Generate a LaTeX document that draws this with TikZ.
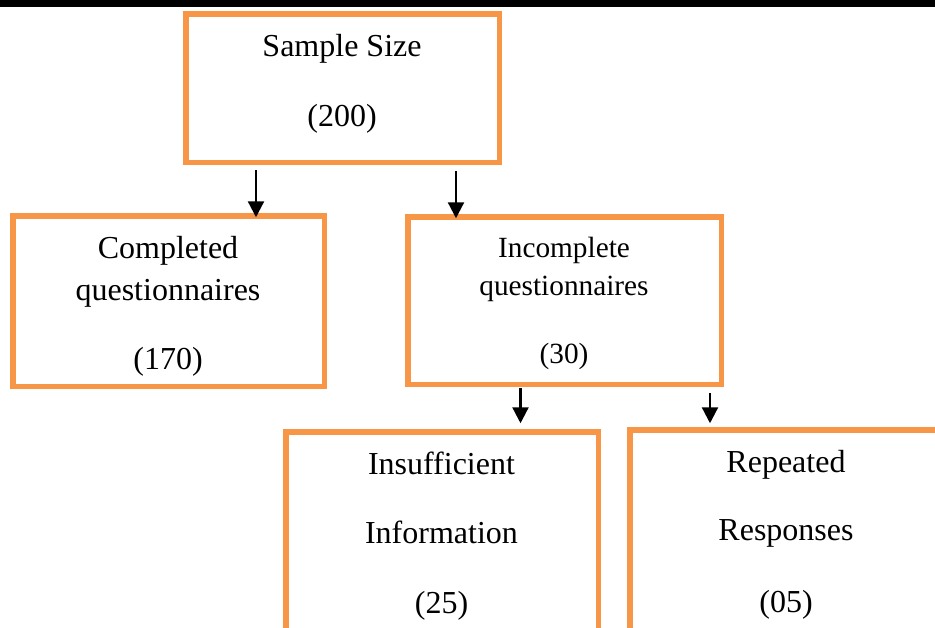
\documentclass[tikz,border=0pt]{standalone}
\usepackage{fontspec}
\setmainfont{Liberation Serif}
\usetikzlibrary{arrows.meta}
\definecolor{boxorange}{HTML}{F79646}
\begin{document}
\begin{tikzpicture}[x=1pt,y=-1pt,
  box/.style={draw=boxorange,line width=5.5pt,fill=white,rectangle,outer sep=0pt,inner sep=0pt},
  lbl/.style={anchor=base,inner sep=0pt,font=\fontsize{32}{38}\selectfont},
  lbls/.style={anchor=base,inner sep=0pt,font=\fontsize{29.3}{35}\selectfont},
  arr/.style={line width=2.3pt,-{Triangle[width=16pt,length=16pt]}}]
\useasboundingbox (0,0) rectangle (935,627);
\clip (0,0) rectangle (935,627);
\fill[black] (0,0) rectangle (935,6.5);
% boxes
\node[box,minimum width=313.5pt,minimum height=148.5pt] (top) at (342.5,88) {};
\node[box,minimum width=311.5pt,minimum height=170.5pt] (comp) at (168.5,301) {};
\node[box,minimum width=313.5pt,minimum height=167.5pt] (inc) at (564.5,300.5) {};
\node[box,minimum width=312.5pt,minimum height=260pt] (insuf) at (442,561.75) {};
\node[box,minimum width=320pt,minimum height=260pt] (rep) at (789.75,559.75) {};
% texts
\node[lbl] (t1) at (342,56) {Sample Size};
\node[lbl] (t2) at (342,126) {(200)};
\node[lbl] (c1) at (168,258) {Completed};
\node[lbl] (c2) at (168,300) {questionnaires};
\node[lbl] (c3) at (168,369) {(170)};
\node[lbls] (i1) at (564,257) {Incomplete};
\node[lbls] (i2) at (564,295) {questionnaires};
\node[lbls] (i3) at (564,363) {(30)};
\node[lbl] (s1) at (441.5,474) {Insufficient};
\node[lbl] (s2) at (441.5,543) {Information};
\node[lbl] (s3) at (441.5,613) {(25)};
\node[lbl] (r1) at (786,472) {Repeated};
\node[lbl] (r2) at (786,540) {Responses};
\node[lbl] (r3) at (786,612) {(05)};
% arrow positions
\coordinate (a1) at (256,0);
\coordinate (a2) at (456,0);
\coordinate (a3) at (520.5,0);
\coordinate (a4) at (710,0);
\draw[arr,shorten <=7.75pt,shorten >=-1.5pt] (top.south -| a1) -- (comp.north -| a1);
\draw[arr,shorten <=8.75pt,shorten >=-1.5pt] (top.south -| a2) -- (inc.north -| a2);
\draw[arr,shorten <=4pt,shorten >=8.5pt] (inc.south -| a3) -- (insuf.north -| a3);
\draw[arr,shorten <=8.75pt,shorten >=6.5pt] (inc.south -| a4) -- (rep.north -| a4);
\end{tikzpicture}
\end{document}
